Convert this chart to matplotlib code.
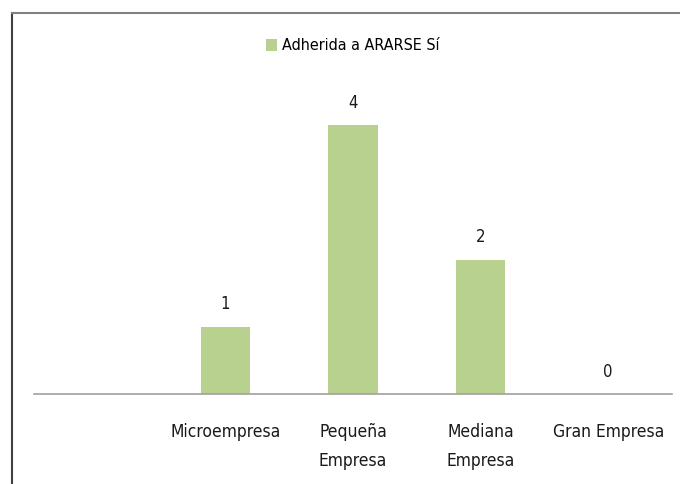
import matplotlib
matplotlib.use("Agg")
import matplotlib.pyplot as plt
from matplotlib.lines import Line2D

# Données
categorias = ["", "Microempresa", "Pequeña\nEmpresa", "Mediana\nEmpresa", "Gran Empresa"]
valores = [None, 1, 4, 2, 0]
serie = "Adherida a ARARSE Sí"
color_barra = "#b9d18f"

plt.rcParams["font.family"] = ["DejaVu Sans"]
plt.rcParams["font.stretch"] = "condensed"

fig = plt.figure(figsize=(6.8, 4.84), dpi=100)
ax = fig.add_axes([34 / 680, 90 / 484, 638 / 680, 336 / 484])

x = list(range(len(categorias)))
alturas = [v if v is not None else 0 for v in valores]
barras = ax.bar(x, alturas, width=0.39, color=color_barra, label=serie)

for xi, v in zip(x, valores):
    if v is None:
        continue
    ax.text(xi, v + 0.2, str(v), ha="center", va="bottom", fontsize=12, color="#1a1a1a")

ax.set_xlim(-0.5, len(categorias) - 0.5)
ax.set_ylim(0, 5)
ax.set_xticks(x)
ax.set_xticklabels(categorias, fontsize=12.5, color="#1a1a1a", linespacing=1.8, va="top")
ax.tick_params(axis="x", length=0, pad=21)
ax.set_yticks([])
for s in ["top", "right", "left"]:
    ax.spines[s].set_visible(False)
ax.spines["bottom"].set_color("#a0a0a0")
ax.spines["bottom"].set_linewidth(1.2)

leg = fig.legend(handles=[barras], labels=[serie], loc="center", bbox_to_anchor=(353 / 680, 1 - 46 / 484),
                 frameon=False, fontsize=11.5, handlelength=0.7, handleheight=0.7, handletextpad=0.3)

# cadre du graphique
fig.add_artist(Line2D([12 / 680, 12 / 680], [0, 1 - 13 / 484], transform=fig.transFigure, color="#404040", lw=1.5))
fig.add_artist(Line2D([12 / 680, 1], [1 - 13 / 484, 1 - 13 / 484], transform=fig.transFigure, color="#808080", lw=1.5))

fig.savefig("out.png", dpi=100)
